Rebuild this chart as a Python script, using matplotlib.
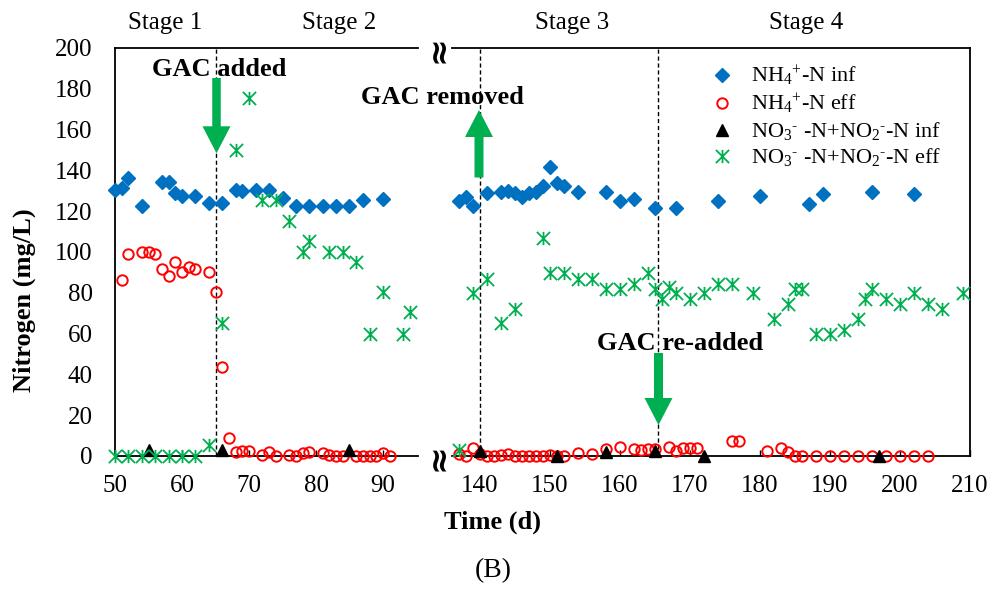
import matplotlib
matplotlib.use('Agg')
import matplotlib.pyplot as plt
import numpy as np
from matplotlib.path import Path
from matplotlib.patches import FancyArrow
from matplotlib.transforms import Affine2D

plt.rcParams['font.family'] = ['Liberation Serif', 'DejaVu Serif']
plt.rcParams['mathtext.fontset'] = 'custom'
plt.rcParams['mathtext.rm'] = 'Liberation Serif'
plt.rcParams['mathtext.it'] = 'Liberation Serif:italic'
plt.rcParams['mathtext.bf'] = 'Liberation Serif:bold'

# ---------------- data ----------------
nh4_inf_day = [50, 51, 52, 54, 57, 58, 59, 60, 62, 64, 66, 68, 69, 71, 73, 75, 77, 79, 81, 83, 85, 87, 90,
               137, 138, 139, 141, 143, 144, 145, 146, 147, 148, 149, 150, 151, 152, 154, 158, 160, 162,
               165, 168, 174, 180, 187, 189, 196, 202]
nh4_inf_val = [130.4, 131.2, 136.4, 122.7, 134.2, 134.2, 129, 127.6, 127.6, 124.2, 124.2, 130.4, 130, 130.4,
               130.4, 126.3, 122.7, 122.7, 122.7, 122.7, 122.7, 125.3, 126,
               125.2, 127.1, 122.5, 129.1, 129.6, 130, 128.8, 127.1, 129.1, 129.6, 132.4, 141.8, 133.7, 132.4,
               129.6, 129.6, 125, 125.8, 121.4, 121.4, 125, 127.5, 123.4, 128.3, 129.6, 128.3]

nh4_eff_day = [51, 52, 54, 55, 56, 57, 58, 59, 60, 61, 62, 64, 65, 66, 67,
               68, 69, 70, 72, 73, 74, 76, 77, 78, 79, 81, 82, 83, 84, 86, 87, 88, 89, 90, 91,
               137, 138, 139, 140, 141, 142, 143, 144, 145, 146, 147, 148, 149, 150, 151, 152,
               154, 156, 158, 160, 162, 163, 164, 165, 167, 168, 169, 170, 171,
               176, 177, 181, 183, 184, 185, 186,
               188, 190, 192, 194, 196, 198, 200, 202, 204]
nh4_eff_val = [86.5, 98.9, 100.2, 100, 98.9, 91.5, 88.2, 95.2, 90, 92.8, 91.5, 90, 80.2, 43.8, 9,
               1.8, 2.6, 2.3, 0.5, 2, 0, 0.5, 0, 1.3, 2, 1.6, 0.5, 0, 0, 0, 0, 0, 0, 1.3, 0,
               1, 0, 4, 1, 0, 0, 0.3, 0.8, 0, 0, 0, 0, 0, 0.3, 0, 0,
               1.6, 0.8, 3.3, 4.6, 3.6, 2.9, 3.6, 3.6, 4.6, 2.5, 4.1, 4.1, 4.1,
               7.5, 7.5, 2.5, 4.1, 1.8, 0, 0,
               0, 0, 0, 0, 0, 0, 0, 0, 0]

no3_inf_day = [55, 66, 85, 140, 151, 158, 165, 172, 197]
no3_inf_val = [3, 3, 3, 2.5, 0, 2, 2.5, 0, 0]

no3_eff_day = [50, 52, 54, 56, 58, 60, 62, 64, 66, 68, 70, 72, 74, 76, 78, 79, 82, 84, 86, 88, 90, 93, 94,
               137, 139, 141, 143, 145, 149, 150, 152, 154, 156, 158, 160, 162, 164, 165, 166, 167, 168,
               170, 172, 174, 176, 179, 182, 184, 185, 186, 188, 190, 192, 194, 195, 196, 198, 200, 202,
               204, 206, 209]
no3_eff_val = [0, 0, 0, 0, 0, 0, 0, 5.4, 65, 150, 175.3, 125.5, 125.5, 115.2, 100.2, 105.4, 100.2, 100, 95.2,
               60, 80.2, 60, 70.4,
               3, 80, 87, 65, 72, 107, 89.5, 89.5, 87, 87, 82, 82, 84.5, 89.5, 82, 77, 83, 80,
               77, 80, 84.5, 84.5, 80, 67, 74.5, 82, 82, 60, 60, 62, 67, 77, 82, 77, 74.5, 80,
               74.5, 72, 80]

labels = [r"NH$_4$$^{+}$-N inf", r"NH$_4$$^{+}$-N eff",
          r"NO$_3$$^{\text{-}}$ -N+NO$_2$$^{\text{-}}$-N inf",
          r"NO$_3$$^{\text{-}}$ -N+NO$_2$$^{\text{-}}$-N eff"]
x_ticks_left = [50, 60, 70, 80, 90]
x_ticks_right = [140, 150, 160, 170, 180, 190, 200, 210]
y_ticks = [0, 20, 40, 60, 80, 100, 120, 140, 160, 180, 200]
stage_labels = ["Stage 1", "Stage 2", "Stage 3", "Stage 4"]

# ---------------- figure ----------------
W, H = 995, 591
fig = plt.figure(figsize=(W / 100, H / 100), dpi=100)


def fx(px):
    return px / W


def fy(py):
    return 1 - py / H


ax1 = fig.add_axes([fx(115), fy(456), fx(418) - fx(115), fy(48) - fy(456)])
ax2 = fig.add_axes([fx(452), fy(456), fx(970) - fx(452), fy(48) - fy(456)])

ax1.set_xlim(50, 50 + 303 / 6.7)
ax2.set_xlim(136, 210)
for ax in (ax1, ax2):
    ax.set_ylim(0, 200)
    for s in ax.spines.values():
        s.set_linewidth(1.3)
        s.set_color('black')
    ax.tick_params(axis='x', direction='in', length=4, width=1, labelsize=18, pad=14)
    ax.tick_params(axis='y', length=0, labelsize=18, pad=16)
ax1.spines['right'].set_visible(False)
ax2.spines['left'].set_visible(False)
ax1.set_xticks(x_ticks_left)
ax2.set_xticks(x_ticks_right)
ax1.set_yticks(y_ticks)
ax2.set_yticks([])

star = Path([(0, -1), (0, 1), (-1, -1), (1, 1), (-1, 1), (1, -1)],
            [Path.MOVETO, Path.LINETO, Path.MOVETO, Path.LINETO, Path.MOVETO, Path.LINETO])

styles = [
    dict(marker='D', ms=7, color='#0070C0', mec='#0070C0'),
    dict(marker='o', ms=7.5, mfc='none', mec='#FF0000', mew=1.4),
    dict(marker='^', ms=9, color='black', mec='black'),
    dict(marker=star, ms=9.5, mfc='none', mec='#00B050', mew=1.3),
]
series = [(nh4_inf_day, nh4_inf_val), (nh4_eff_day, nh4_eff_val),
          (no3_inf_day, no3_inf_val), (no3_eff_day, no3_eff_val)]

handles = []
for (d, v), st, lab in zip(series, styles, labels):
    d = np.asarray(d, float)
    v = np.asarray(v, float)
    m1 = d <= 95.5
    m2 = d >= 136
    ax1.plot(d[m1], v[m1], ls='none', clip_on=False, zorder=3, **st)
    h, = ax2.plot(d[m2], v[m2], ls='none', clip_on=False, zorder=3, label=lab, **st)
    handles.append(h)

# stage boundaries
ax1.axvline(65, color='black', lw=1, ls=(0, (3, 2)), zorder=1)
ax2.axvline(140, color='black', lw=1, ls=(0, (3, 2)), zorder=1)
ax2.axvline(165.4, color='black', lw=1, ls=(0, (3, 2)), zorder=1)

leg = ax2.legend(handles=handles, labels=labels, loc='upper left',
                 bbox_to_anchor=(fx(711), fy(64)), bbox_transform=fig.transFigure,
                 frameon=False, fontsize=16, handlelength=1.0, handletextpad=0.8,
                 labelspacing=0.18, borderpad=0, borderaxespad=0)

# texts
for lab, px in zip(stage_labels, [165.5, 339.5, 572, 806.5]):
    fig.text(fx(px), fy(29.5), lab, ha='center', va='baseline', fontsize=18)

fig.text(fx(219), fy(76), 'GAC added', ha='center', va='baseline', fontsize=19, fontweight='bold')
fig.text(fx(442), fy(104), 'GAC removed', ha='center', va='baseline', fontsize=19, fontweight='bold')
fig.text(fx(680), fy(350), 'GAC re-added', ha='center', va='baseline', fontsize=19, fontweight='bold')

fig.text(fx(493), fy(529), 'Time (d)', ha='center', va='baseline', fontsize=19, fontweight='bold')
fig.text(fx(24), fy(300), 'Nitrogen (mg/L)', ha='center', va='center', rotation=90,
         fontsize=19, fontweight='bold')
fig.text(fx(493), fy(571), '(B)', ha='center', va='center', fontsize=20)

# axis break marks
for py in (49, 457):
    fig.text(fx(438), fy(py), '\u2248', ha='center', va='center', rotation=90,
             fontsize=24, fontweight='bold', family='DejaVu Sans')

# arrows (pixel coordinates, origin top-left)
pix = Affine2D().scale(1, -1).translate(0, H)
green = '#00B050'
for x0, y0, dy, w in [(216.5, 78, 75.3, 8.5), (479, 177.5, -67.5, 9), (658.5, 353, 72, 9)]:
    fig.add_artist(FancyArrow(x0, y0, 0, dy, width=w, head_width=28, head_length=27,
                              length_includes_head=True, color=green, lw=0, transform=pix))

fig.savefig('out.png', dpi=100)
